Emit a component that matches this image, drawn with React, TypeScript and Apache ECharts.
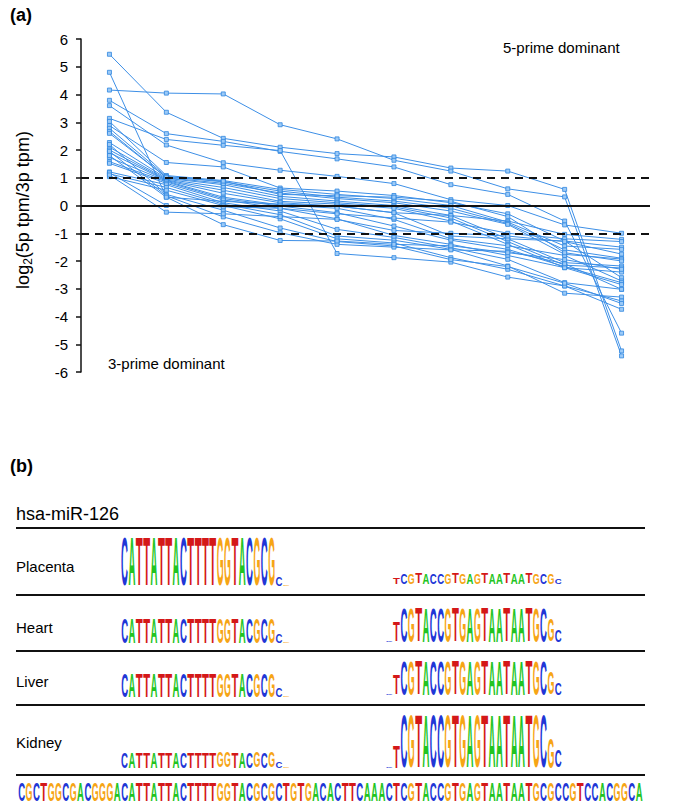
import React, { useEffect, useRef } from 'react';
import * as echarts from 'echarts';

// ---------- Panel (a) data ----------
const categories = ['1', '2', '3', '4', '5', '6', '7', '8', '9', '10'];

const s01 = [5.45, 3.36, 2.42, 2.10, 1.87, 1.75, 1.35, 1.24, 0.58, -5.24];
const s02 = [4.16, 4.05, 4.02, 2.91, 2.40, 1.63, 1.24, 0.60, 0.31, -5.42];
const s03 = [3.79, 2.59, 2.31, 1.95, 1.68, 1.39, 0.75, 0.40, -0.56, -4.60];
const s04 = [3.14, 2.38, 2.17, 1.98, -1.73, -1.88, -2.04, -2.58, -2.90, -3.74];
const s05 = [3.60, 2.18, 1.54, 1.27, 1.05, 0.79, 0.21, 0.00, -0.70, -1.00];
const s06 = [4.80, 0.30, 0.15, 0.05, -0.02, -0.26, -0.36, -0.56, -1.04, -1.22];
const s07 = [2.88, 1.55, 1.39, 0.63, 0.52, 0.36, 0.10, -0.30, -1.28, -1.50];
const s08 = [3.03, 1.08, 0.90, 0.58, 0.40, 0.25, 0.00, -0.60, -1.46, -1.58];
const s09 = [2.78, 1.05, 0.85, 0.52, 0.30, 0.16, -0.10, -0.65, -1.60, -1.90];
const s10 = [2.67, 1.00, 0.80, 0.45, 0.25, 0.10, -0.20, -0.68, -1.76, -1.93];
const s11 = [2.27, 0.98, 0.75, 0.33, 0.16, 0.00, -0.36, -1.20, -2.06, -2.18];
const s12 = [2.10, 0.95, 0.65, 0.25, 0.10, -0.05, -0.45, -1.30, -2.15, -2.25];
const s13 = [2.00, 0.92, 0.55, 0.15, 0.05, -0.10, -0.56, -1.40, -2.24, -2.40];
const s14 = [1.90, 0.90, 0.44, 0.10, -0.02, -0.26, -1.10, -1.20, -1.28, -2.60];
const s15 = [1.73, 0.88, 0.30, 0.02, -0.10, -0.50, -1.20, -1.45, -1.80, -2.72];
const s16 = [1.58, 0.85, 0.25, -0.02, -0.26, -0.74, -1.25, -1.58, -2.20, -2.78];
const s17 = [1.52, 0.80, 0.20, -0.10, -0.48, -1.08, -1.40, -1.80, -2.24, -2.85];
const s18 = [1.21, 0.75, 0.10, -0.20, -0.86, -1.15, -1.52, -1.94, -2.78, -3.02];
const s19 = [1.14, 0.65, 0.05, -0.33, -1.10, -1.25, -1.58, -2.18, -3.16, -3.30];
const s20 = [1.04, 0.55, 0.00, -0.48, -1.20, -1.35, -1.88, -2.30, -2.90, -3.44];
const s21 = [2.20, 0.40, -0.17, -0.81, -1.30, -1.46, -1.95, -2.20, -2.80, -3.53];
const s22 = [1.95, 0.35, -0.41, -0.98, -1.40, -1.50, -1.60, -1.65, -2.10, -3.02];
const s23 = [1.80, 0.30, -0.69, -1.26, -1.28, -1.40, -1.45, -1.70, -1.95, -2.30];
const s24 = [1.18, 0.00, -0.05, -0.10, -0.30, -0.45, -0.60, -1.00, -1.20, -1.30];
const s25 = [1.10, -0.24, -0.30, -0.40, -0.50, -0.90, -1.00, -1.10, -1.30, -1.75];
const s26 = [2.60, 1.02, 0.88, 0.40, 0.35, 0.30, 0.15, -0.40, -1.70, -2.00];
const allSeries = [s01, s02, s03, s04, s05, s06, s07, s08, s09, s10, s11, s12, s13,
  s14, s15, s16, s17, s18, s19, s20, s21, s22, s23, s24, s25, s26];

const solidLevels = [0];
const dashedLevels = [1, -1];

// ---------- Panel (b) data ----------
const fullSequence = 'CGCTGGCGACGGGACATTATTACTTTTGGTACGCGCTGTGACACTTCAAACTCGTACCGTGAGTAATAATGCGCCGTCCACGGCA';
const tissues = ['Placenta', 'Heart', 'Liver', 'Kidney'];
const arm5pStart = 14;
const arm5pLetters = 'CATTATTACTTTTGGTACGCGCG';
const arm5pMain = [49, 25, 24, 16];
const arm5pTail = [[9, 1.5], [9, 1.2], [9, 1.2], [6, 1]];
const arm3pStart = 50;
const arm3pLetters = 'CTCGTACCGTGAGTAATAATGCGC';
const arm3pMain = [10, 35, 35, 53];
const arm3pHead = [[0, 7], [1.5, 20], [1.5, 20], [1.5, 23]];
const arm3pTail = [[10, 5], [22, 12], [22, 12], [30, 17]];

const FONT = '"Liberation Sans", Arial, Helvetica, sans-serif';
const letterColors: Record<string, string> = { A: '#22c422', C: '#2136d6', G: '#f6a515', T: '#d41818' };
const letterWidths: Record<string, number> = { A: 0.722, C: 0.722, G: 0.778, T: 0.611 };
const STEP = 7.35;
const X0 = 18;

function letterEl(ch: string, index: number, baseY: number, h: number) {
  const w = 6.9;
  const sx = w / (letterWidths[ch] * 10);
  const sy = h / 7.16;
  return {
    type: 'text',
    x: X0 + index * STEP + STEP / 2,
    y: baseY - h / 2,
    scaleX: sx,
    scaleY: sy,
    silent: true,
    style: {
      text: ch,
      fill: letterColors[ch],
      fontSize: 10,
      fontWeight: 'bold',
      fontFamily: FONT,
      align: 'center',
      verticalAlign: 'middle',
      textAlign: 'center',
      textVerticalAlign: 'middle',
    },
  };
}

function txt(text: string, x: number, y: number, size: number, bold = false, align = 'left') {
  return {
    type: 'text',
    x,
    y,
    silent: true,
    style: {
      text,
      fill: '#000',
      fontSize: size,
      fontWeight: bold ? 'bold' : 'normal',
      fontFamily: FONT,
      align,
      verticalAlign: 'middle',
      textAlign: align,
      textVerticalAlign: 'middle',
    },
  };
}

function hline(y: number) {
  return {
    type: 'line',
    silent: true,
    shape: { x1: 16, y1: y, x2: 645, y2: y },
    style: { stroke: '#111', lineWidth: 1.8 },
  };
}

export default function App() {
  const ref = useRef<HTMLDivElement>(null);
  useEffect(() => {
    if (!ref.current) return;
    const chart = echarts.init(ref.current, undefined, { renderer: 'svg' });

    const left5pBase = [586, 643, 697, 768];
    const right3pBase = [584, 642, 695, 768];
    const labelY = [566, 627, 681, 742];
    const graphics: any[] = [];

    graphics.push(txt('(a)', 10, 15, 18, true));
    graphics.push(txt('5-prime dominant', 503, 47, 15));
    graphics.push(txt('3-prime dominant', 108, 363, 15));
    graphics.push({
      type: 'text',
      x: 23,
      y: 210,
      rotation: Math.PI / 2,
      silent: true,
      style: {
        text: '{a|log}{s|2}{a|(5p tpm/3p tpm)}',
        fill: '#000',
        align: 'center',
        verticalAlign: 'middle',
        textAlign: 'center',
        textVerticalAlign: 'middle',
        rich: {
          a: { fontSize: 18, fontFamily: FONT, lineHeight: 22, verticalAlign: 'middle' },
          s: { fontSize: 12, fontFamily: FONT, lineHeight: 22, verticalAlign: 'bottom', padding: [0, 0, 0, 0] },
        },
      },
    });

    graphics.push(txt('(b)', 10, 466, 18, true));
    graphics.push(txt('hsa-miR-126', 16, 514, 18));
    [528, 595, 651, 705, 775].forEach((y) => graphics.push(hline(y)));
    tissues.forEach((name, r) => {
      graphics.push(txt(name, 16, labelY[r], 15));
      for (let k = 0; k < arm5pLetters.length; k++) {
        let h = arm5pMain[r];
        if (k === 21) h = arm5pTail[r][0];
        if (k === 22) h = arm5pTail[r][1];
        if (h > 0) graphics.push(letterEl(arm5pLetters[k], arm5pStart + k, left5pBase[r], h));
      }
      for (let k = 0; k < arm3pLetters.length; k++) {
        let h = arm3pMain[r];
        if (k === 0) h = arm3pHead[r][0];
        if (k === 1) h = arm3pHead[r][1];
        if (k === 22) h = arm3pTail[r][0];
        if (k === 23) h = arm3pTail[r][1];
        if (h > 0) graphics.push(letterEl(arm3pLetters[k], arm3pStart + k, right3pBase[r], h));
      }
    });
    for (let i = 0; i < fullSequence.length; i++) {
      graphics.push(letterEl(fullSequence[i], i, 801, 18));
    }

    const markData: any[] = [
      ...solidLevels.map((v) => ({ yAxis: v, lineStyle: { type: 'solid', width: 2, color: '#111' } })),
      ...dashedLevels.map((v) => ({ yAxis: v, lineStyle: { type: [8, 6], width: 1.8, color: '#111' } })),
    ];

    const series: any[] = allSeries.map((d, i) => ({
      type: 'line',
      data: d,
      symbol: 'rect',
      symbolSize: 4,
      showSymbol: true,
      lineStyle: { color: '#3d8fe6', width: 1 },
      itemStyle: { color: '#9ccaf7', borderColor: '#2f86e0', borderWidth: 0.8 },
      emphasis: { disabled: true },
      silent: true,
      z: 2,
      ...(i === allSeries.length - 1
        ? {
            markLine: {
              silent: true,
              symbol: ['none', 'none'],
              label: { show: false },
              data: markData,
              z: 5,
            },
          }
        : {}),
    }));

    chart.setOption({
      animation: false,
      backgroundColor: '#fff',
      grid: { left: 81, right: 35, top: 39, bottom: 440, containLabel: false },
      xAxis: {
        type: 'category',
        data: categories,
        boundaryGap: true,
        show: false,
      },
      yAxis: {
        type: 'value',
        min: -6,
        max: 6,
        interval: 1,
        axisLine: { show: true, lineStyle: { color: '#111', width: 1.5 } },
        axisTick: { show: true, length: 5, inside: false, lineStyle: { color: '#111', width: 1.5 } },
        axisLabel: { fontSize: 15, color: '#000', fontFamily: FONT, margin: 13 },
        splitLine: { show: false },
      },
      series,
      graphic: graphics,
    });
    return () => chart.dispose();
  }, []);
  return <div ref={ref} style={{ position: 'absolute', left: 0, top: 0, width: 685, height: 812 }} />;
}
